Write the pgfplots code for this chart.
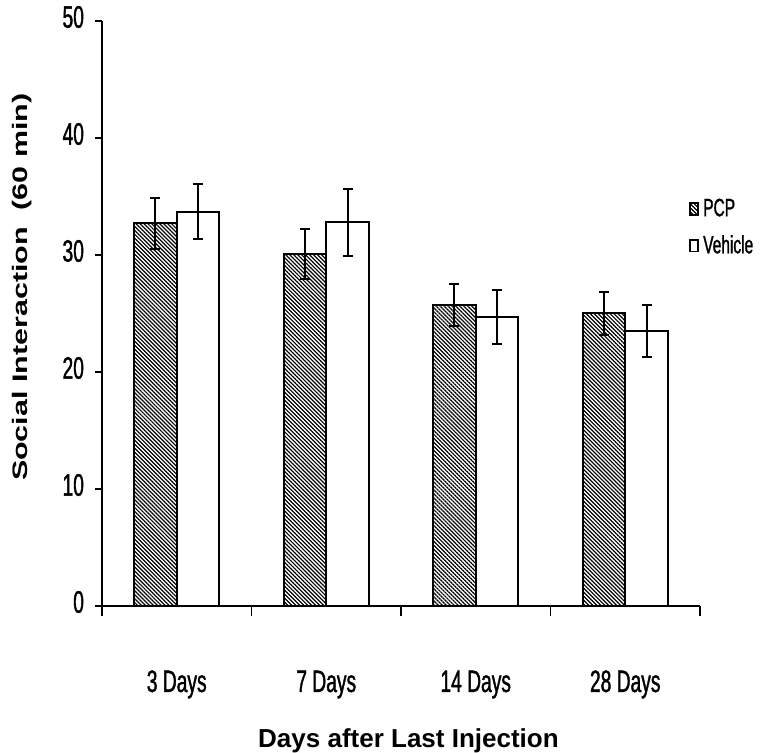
\documentclass[border=0pt]{standalone}
\usepackage{fontspec}
\setmainfont{Liberation Sans}
\newfontfamily\narrowfont[FakeStretch=0.62, FakeBold=1.2]{Liberation Sans}
\newfontfamily\widefont[FakeStretch=1.45]{Liberation Sans}
\usepackage{pgfplots}
\pgfplotsset{compat=1.18}
\usetikzlibrary{patterns.meta}
\begin{document}
\begin{tikzpicture}
\path[use as bounding box] (-51pt,-73.5pt) rectangle (331.5pt,303pt);
\begin{axis}[
  scale only axis, width=299pt, height=292.5pt,
  xmin=-0.5, xmax=3.5, ymin=0, ymax=50,
  axis x line*=bottom, axis y line*=left,
  axis line style={line width=1pt},
  ybar, bar width=0.285,
  ytick={0,10,...,50},
  xtick={0,1,2,3}, xticklabels={3 Days,7 Days,14 Days,28 Days},
  minor xtick={-0.5,0.5,1.5,2.5,3.5},
  tick align=outside,
  major tick length=3.5pt, minor tick length=5pt,
  major x tick style={draw=none},
  tick style={line width=0.8pt, black},
  /pgf/number format/assume math mode=true,
  ticklabel style={font=\narrowfont\fontsize{15.5}{18}\selectfont},
  xticklabel style={anchor=base, yshift=-39.5pt},
  yticklabel style={xshift=-2pt, yshift=2pt},
  ylabel={Social Interaction\ \ (60 min)},
  ylabel style={font=\widefont\bfseries\fontsize{10.5}{12}\selectfont, at={(axis description cs:-0.134,0.545)}, anchor=center},
  xlabel={Days after Last Injection},
  xlabel style={font=\bfseries\fontsize{13}{15}\selectfont, at={(axis description cs:0.5125,-0.231)}, anchor=center},
  legend style={at={(0.981,0.647)}, anchor=west, draw=none, fill=none, inner sep=0pt,
    font=\narrowfont\fontsize{12.5}{14}\selectfont, row sep=4pt,
    /tikz/every even column/.style={column sep=0pt}},
  legend cell align=left,
  legend image code/.code={\draw[#1, line width=0.9pt] (0pt,-2.9pt) rectangle (4.2pt,2.9pt);},
]
\addplot[bar shift=-0.1425, draw=black, line width=1pt,
  pattern={Lines[angle=-45,distance=1.4pt,line width=0.6pt]},
  error bars/.cd, y dir=both, y explicit,
  error bar style={line width=1pt, solid},
  error mark options={rotate=90, mark size=2.5pt, line width=1pt}]
  coordinates {(0,32.7) +- (0,2.15) (1,30.1) +- (0,2.15) (2,25.7) +- (0,1.8) (3,25.0) +- (0,1.8)};
\addlegendentry{PCP}
\addplot[bar shift=0.1425, draw=black, fill=white, line width=1pt,
  error bars/.cd, y dir=both, y explicit,
  error bar style={line width=1pt, solid},
  error mark options={rotate=90, mark size=2.5pt, line width=1pt}]
  coordinates {(0,33.7) +- (0,2.35) (1,32.8) +- (0,2.85) (2,24.7) +- (0,2.3) (3,23.5) +- (0,2.2)};
\addlegendentry{Vehicle}
\end{axis}
\end{tikzpicture}
\end{document}
